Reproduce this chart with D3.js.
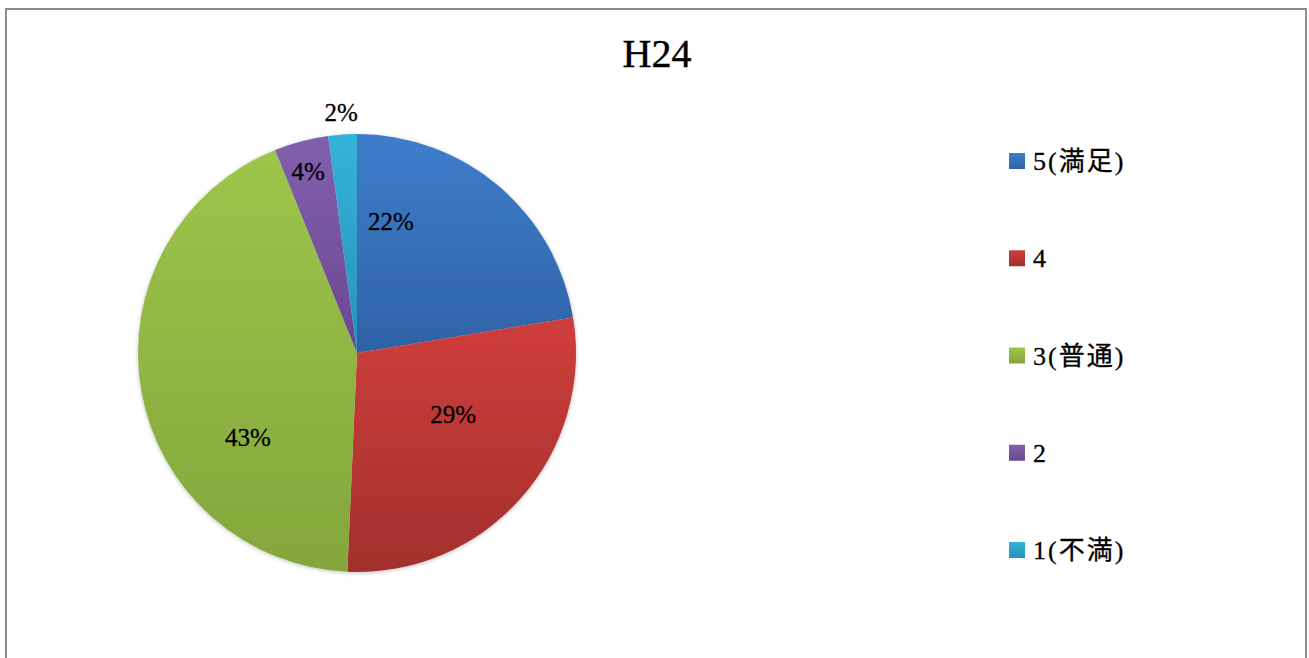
<!DOCTYPE html>
<html><head><meta charset="utf-8">
<script src="https://cdn.jsdelivr.net/npm/d3@7"></script>
<style>
html,body{margin:0;padding:0;background:#fff;}
svg{display:block;}
</style></head>
<body>
<svg id="c" width="1309" height="658"></svg>
<script>
const title = "H24";
const categories = ["5(満足)", "4", "3(普通)", "2", "1(不満)"];
const values = [22.4, 28.3, 43.2, 4.0, 2.1];
const labels = ["22%", "29%", "43%", "4%", "2%"];

const colorsTop = ["#3f7dcc", "#cf3f3c", "#9dc54b", "#8260ad", "#36b2da"];
const colorsBot = ["#2e63a6", "#a22f2d", "#84a63c", "#6a4791", "#2593b8"];
// label placement: fraction of angular span within slice, radius factor
const labelLayout = [[0.18, 0.62], [0.41, 0.52], [0.32, 0.63], [0.48, 0.86], [0.5, 1.10]];

const svg = d3.select("#c");
const serif = "'Liberation Serif','DejaVu Serif','Noto Sans CJK JP',serif";

// frame
svg.append("rect").attr("x", 6).attr("y", 9).attr("width", 1300).attr("height", 660)
  .attr("fill", "#fff").attr("stroke", "#8c8c8c").attr("stroke-width", 2);

const defs = svg.append("defs");
colorsTop.forEach((c, i) => {
  const g = defs.append("linearGradient").attr("id", "g" + i)
    .attr("x1", 0).attr("y1", 0).attr("x2", 0).attr("y2", 1);
  g.append("stop").attr("offset", "0%").attr("stop-color", c);
  g.append("stop").attr("offset", "100%").attr("stop-color", colorsBot[i]);
});
const f = defs.append("filter").attr("id", "sh").attr("x", "-10%").attr("y", "-10%").attr("width", "120%").attr("height", "120%");
f.append("feGaussianBlur").attr("in", "SourceAlpha").attr("stdDeviation", 2).attr("result", "b");
f.append("feOffset").attr("in", "b").attr("dx", 0).attr("dy", 1).attr("result", "o");
f.append("feComponentTransfer").attr("in", "o").attr("result", "o2")
  .append("feFuncA").attr("type", "linear").attr("slope", 0.25);
const m = f.append("feMerge");
m.append("feMergeNode").attr("in", "o2");
m.append("feMergeNode").attr("in", "SourceGraphic");

svg.append("text").attr("x", 657).attr("y", 67).attr("text-anchor", "middle")
  .attr("font-family", serif).attr("font-size", 40).attr("fill", "#000")
  .attr("stroke", "#000").attr("stroke-width", 0.4).text(title);

const cx = 357, cy = 353, R = 219;
const pie = d3.pie().sort(null).value(d => d)(values);
const arc = d3.arc().innerRadius(0).outerRadius(R);
const g = svg.append("g").attr("transform", `translate(${cx},${cy})`).attr("filter", "url(#sh)");
g.selectAll("path").data(pie).join("path")
  .attr("d", arc).attr("fill", (d, i) => `url(#g${i})`);

const lg = svg.append("g").attr("transform", `translate(${cx},${cy})`);
lg.selectAll("text").data(pie).join("text")
  .attr("x", (d, i) => { const a = d.startAngle + (d.endAngle - d.startAngle) * labelLayout[i][0]; return Math.sin(a) * R * labelLayout[i][1]; })
  .attr("y", (d, i) => { const a = d.startAngle + (d.endAngle - d.startAngle) * labelLayout[i][0]; return -Math.cos(a) * R * labelLayout[i][1]; })
  .attr("dy", "0.35em").attr("text-anchor", "middle")
  .attr("font-family", serif).attr("font-size", 25).attr("fill", "#000")
  .attr("stroke", "#000").attr("stroke-width", 0.3)
  .text((d, i) => labels[i]);

const ly = d3.scalePoint().domain(categories).range([161, 550]);
const leg = svg.append("g").selectAll("g").data(categories).join("g")
  .attr("transform", d => `translate(1009,${ly(d)})`);
leg.append("rect").attr("x", 0).attr("y", -8).attr("width", 16).attr("height", 16)
  .attr("fill", (d, i) => `url(#g${i})`);
leg.append("text").attr("x", 24).attr("y", 0).attr("dy", "0.35em")
  .attr("font-family", serif).attr("font-size", 26).attr("letter-spacing", 2).attr("fill", "#000")
  .attr("stroke", "#000").attr("stroke-width", 0.3).text(d => d);
</script>
</body></html>
